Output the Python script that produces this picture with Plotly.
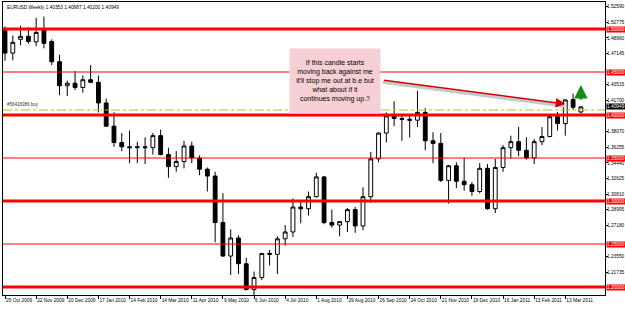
import plotly.graph_objects as go

# ---------------- data ----------------
week_labels = ["25 Oct 2009", "22 Nov 2009", "20 Dec 2009", "17 Jan 2010", "14 Feb 2010",
               "14 Mar 2010", "11 Apr 2010", "9 May 2010", "6 Jun 2010", "4 Jul 2010",
               "1 Aug 2010", "29 Aug 2010", "26 Sep 2010", "24 Oct 2010", "21 Nov 2010",
               "19 Dec 2010", "16 Jan 2011", "13 Feb 2011", "13 Mar 2011"]

opens = [1.4985, 1.4720, 1.4880, 1.4915, 1.4850, 1.5005, 1.4855, 1.4620, 1.4340, 1.4370,
         1.4320, 1.4410, 1.4380, 1.4140, 1.3870, 1.3680, 1.3630, 1.3620, 1.3630, 1.3620,
         1.3760, 1.3540, 1.3400, 1.3460, 1.3640, 1.3500, 1.3370, 1.3290, 1.2750, 1.2360,
         1.2570, 1.2270, 1.1970, 1.2110, 1.2390, 1.2380, 1.2560, 1.2640, 1.2930, 1.2910,
         1.3050, 1.3280, 1.2750, 1.2720, 1.2760, 1.2900, 1.2710, 1.3050, 1.3490, 1.3790,
         1.3990, 1.3960, 1.3950, 1.3940, 1.4030, 1.3700, 1.3670, 1.3240, 1.3410, 1.3230,
         1.3190, 1.3110, 1.3380, 1.2910, 1.3390, 1.3620, 1.3690, 1.3590, 1.3500, 1.3690,
         1.3750, 1.3980, 1.3900, 1.4180, 1.40353]
highs = [1.5030, 1.4925, 1.5040, 1.5020, 1.5130, 1.5145, 1.4880, 1.4700, 1.4400, 1.4510,
         1.4460, 1.4580, 1.4460, 1.4190, 1.4030, 1.3790, 1.3820, 1.3690, 1.3740, 1.3790,
         1.3830, 1.3620, 1.3580, 1.3700, 1.3690, 1.3530, 1.3390, 1.3340, 1.3090, 1.2670,
         1.2600, 1.2340, 1.2180, 1.2390, 1.2430, 1.2590, 1.2720, 1.3030, 1.3000, 1.3110,
         1.3330, 1.3290, 1.2900, 1.2760, 1.2920, 1.2930, 1.3160, 1.3570, 1.3800, 1.4030,
         1.4160, 1.4010, 1.4000, 1.4280, 1.4080, 1.3800, 1.3790, 1.3420, 1.3450, 1.3500,
         1.3220, 1.3440, 1.3430, 1.3490, 1.3650, 1.3760, 1.3860, 1.3740, 1.3720, 1.3860,
         1.4000, 1.4035, 1.4180, 1.4250, 1.40987]
lows = [1.4630, 1.4635, 1.4810, 1.4830, 1.4800, 1.4775, 1.4580, 1.4230, 1.4220, 1.4290,
        1.4260, 1.4370, 1.4030, 1.3860, 1.3630, 1.3580, 1.3440, 1.3440, 1.3430, 1.3540,
        1.3530, 1.3270, 1.3340, 1.3380, 1.3440, 1.3300, 1.3110, 1.2520, 1.2350, 1.2140,
        1.2150, 1.1960, 1.1890, 1.2080, 1.2250, 1.2150, 1.2480, 1.2580, 1.2740, 1.2830,
        1.3040, 1.2730, 1.2690, 1.2590, 1.2640, 1.2630, 1.2660, 1.2980, 1.3450, 1.3680,
        1.3870, 1.3700, 1.3740, 1.3860, 1.3590, 1.3440, 1.3220, 1.2970, 1.3150, 1.3120,
        1.3060, 1.3090, 1.2900, 1.2860, 1.3340, 1.3490, 1.3520, 1.3480, 1.3430, 1.3650,
        1.3740, 1.3820, 1.3760, 1.4060, 1.40200]
closes = [1.4720, 1.4845, 1.4915, 1.4856, 1.4960, 1.4833, 1.4620, 1.4340, 1.4370, 1.4320,
          1.4410, 1.4380, 1.4140, 1.3870, 1.3680, 1.3630, 1.3620, 1.3630, 1.3620, 1.3760,
          1.3540, 1.3400, 1.3460, 1.3640, 1.3500, 1.3370, 1.3290, 1.2750, 1.2360, 1.2570,
          1.2270, 1.1970, 1.2110, 1.2390, 1.2380, 1.2560, 1.2640, 1.2930, 1.2910, 1.3050,
          1.3280, 1.2750, 1.2720, 1.2760, 1.2900, 1.2710, 1.3050, 1.3490, 1.3790, 1.3990,
          1.3960, 1.3950, 1.3940, 1.4030, 1.3700, 1.3670, 1.3240, 1.3410, 1.3230, 1.3190,
          1.3110, 1.3380, 1.2910, 1.3390, 1.3620, 1.3690, 1.3590, 1.3500, 1.3690, 1.3750,
          1.3980, 1.3900, 1.4175, 1.4090, 1.40949]

price_ticks = [1.52590, 1.50775, 1.48960, 1.47145, 1.43515, 1.41700, 1.38070, 1.36255,
               1.34440, 1.32625, 1.30810, 1.28995, 1.27180, 1.23550, 1.21735]
bottom_tick = 1.18050

level_prices = [1.50, 1.45, 1.40, 1.35, 1.30, 1.25, 1.20]
level_major = [True, False, True, False, True, False, True]

current_price = 1.40949
order_price = 1.4058
order_text = "#56418386 buy"
title_text = "EURUSD,Weekly 1.40353 1.40987 1.40200 1.40949"

note_text = "If this candle starts<br>moving back against me<br>it'll stop me out at b.e but<br>what about if it<br>continues moving up.?"
note_pos = (42.4, 1.4401)
trend_x = [48.5, 72.0]
trend_y = [1.4407, 1.4128]
up_arrow_x = 74
up_arrow_y = [1.4163, 1.4349]

n = len(opens)
idx = list(range(n))
tick_idx = [4 * k for k in range(len(week_labels))]

FONT = "Liberation Sans"

fig = go.Figure()
fig.add_trace(go.Candlestick(
    x=idx, open=opens, high=highs, low=lows, close=closes,
    increasing=dict(line=dict(color="black", width=1), fillcolor="white"),
    decreasing=dict(line=dict(color="black", width=1), fillcolor="black"),
    whiskerwidth=0, showlegend=False, hoverinfo="skip"))

shapes = []
annotations = []

# level lines and labels
for p, major in zip(level_prices, level_major):
    shapes.append(dict(type="line", xref="paper", x0=0, x1=1, yref="y", y0=p, y1=p,
                       line=dict(color="#ff0000", width=3 if major else 1), layer="above"))
    annotations.append(dict(x=1, xref="paper", y=p, yref="y", xanchor="left", xshift=1,
                            text=f"{p:.5f}", showarrow=False, bgcolor="#ff0000",
                            font=dict(family=FONT, size=4.8, color="white"), borderpad=0))

# order line
shapes.append(dict(type="line", xref="paper", x0=0, x1=1, yref="y", y0=order_price, y1=order_price,
                   line=dict(color="#9acd32", width=1, dash="dashdot"), layer="above"))
annotations.append(dict(x=0.004, xref="paper", y=order_price, yref="y", xanchor="left",
                        yanchor="bottom", yshift=1, text=order_text, showarrow=False,
                        font=dict(family=FONT, size=4.5, color="#333333")))

# current price label
annotations.append(dict(x=1, xref="paper", y=current_price, yref="y", xanchor="left", xshift=1,
                        text=f"{current_price:.5f}", showarrow=False, bgcolor="black",
                        font=dict(family=FONT, size=4.8, color="white"), borderpad=0))

# bottom price scale label
annotations.append(dict(x=1, xref="paper", y=bottom_tick, yref="y", xanchor="left", xshift=1,
                        text=f"{bottom_tick:.5f}", showarrow=False,
                        font=dict(family=FONT, size=4.8, color="black")))

# title
annotations.append(dict(x=0.004, xref="paper", y=1, yref="paper", xanchor="left", yanchor="top",
                        yshift=-1, text=title_text, showarrow=False,
                        font=dict(family=FONT, size=4.8, color="black")))

# trend line shadow + arrow
shapes.append(dict(type="line", xref="x", yref="y", x0=trend_x[0], x1=trend_x[1],
                   y0=trend_y[0] - 0.0025, y1=trend_y[1] - 0.0025,
                   line=dict(color="#c8c8c8", width=3)))
annotations.append(dict(x=trend_x[1], y=trend_y[1], xref="x", yref="y",
                        ax=trend_x[0], ay=trend_y[0], axref="x", ayref="y",
                        showarrow=True, arrowhead=2, arrowsize=1.2, arrowwidth=1.6,
                        arrowcolor="#cc0000", text=""))

# note box
annotations.append(dict(x=note_pos[0], y=note_pos[1], xref="x", yref="y", text=note_text,
                        showarrow=False, bgcolor="#f7d0d5", width=88, height=62,
                        align="center", valign="middle",
                        font=dict(family=FONT, size=7, color="black")))

# green up arrow
annotations.append(dict(x=up_arrow_x, y=up_arrow_y[1], xref="x", yref="y",
                        ax=up_arrow_x, ay=up_arrow_y[0], axref="x", ayref="y",
                        showarrow=True, arrowhead=2, arrowsize=0.9, arrowwidth=3,
                        arrowcolor="#168a16", text=""))

fig.update_layout(
    width=625, height=314,
    margin=dict(l=3, r=20, t=2, b=19, autoexpand=False),
    paper_bgcolor="white", plot_bgcolor="white",
    shapes=shapes, annotations=annotations,
    showlegend=False,
    xaxis=dict(range=[-0.26, 77.1], tickmode="array", tickvals=tick_idx, ticktext=week_labels,
               ticks="outside", ticklen=3, tickcolor="black", showgrid=False, zeroline=False,
               showline=True, linecolor="black", linewidth=1, mirror=True, tickangle=0,
               rangeslider=dict(visible=False), ticklabelposition="outside right",
               automargin=False,
               tickfont=dict(family=FONT, size=4.8, color="black"), fixedrange=True),
    yaxis=dict(range=[1.1907, 1.5314], side="right", tickmode="array", tickvals=price_ticks,
               ticktext=[f"{v:.5f}" for v in price_ticks], ticks="outside", ticklen=2,
               ticklabelstandoff=-2,
               tickcolor="black", showgrid=False, zeroline=False, showline=True,
               linecolor="black", linewidth=1, mirror=True, automargin=False,
               tickfont=dict(family=FONT, size=4.8, color="black"), fixedrange=True),
)

fig.write_html("out.html")
